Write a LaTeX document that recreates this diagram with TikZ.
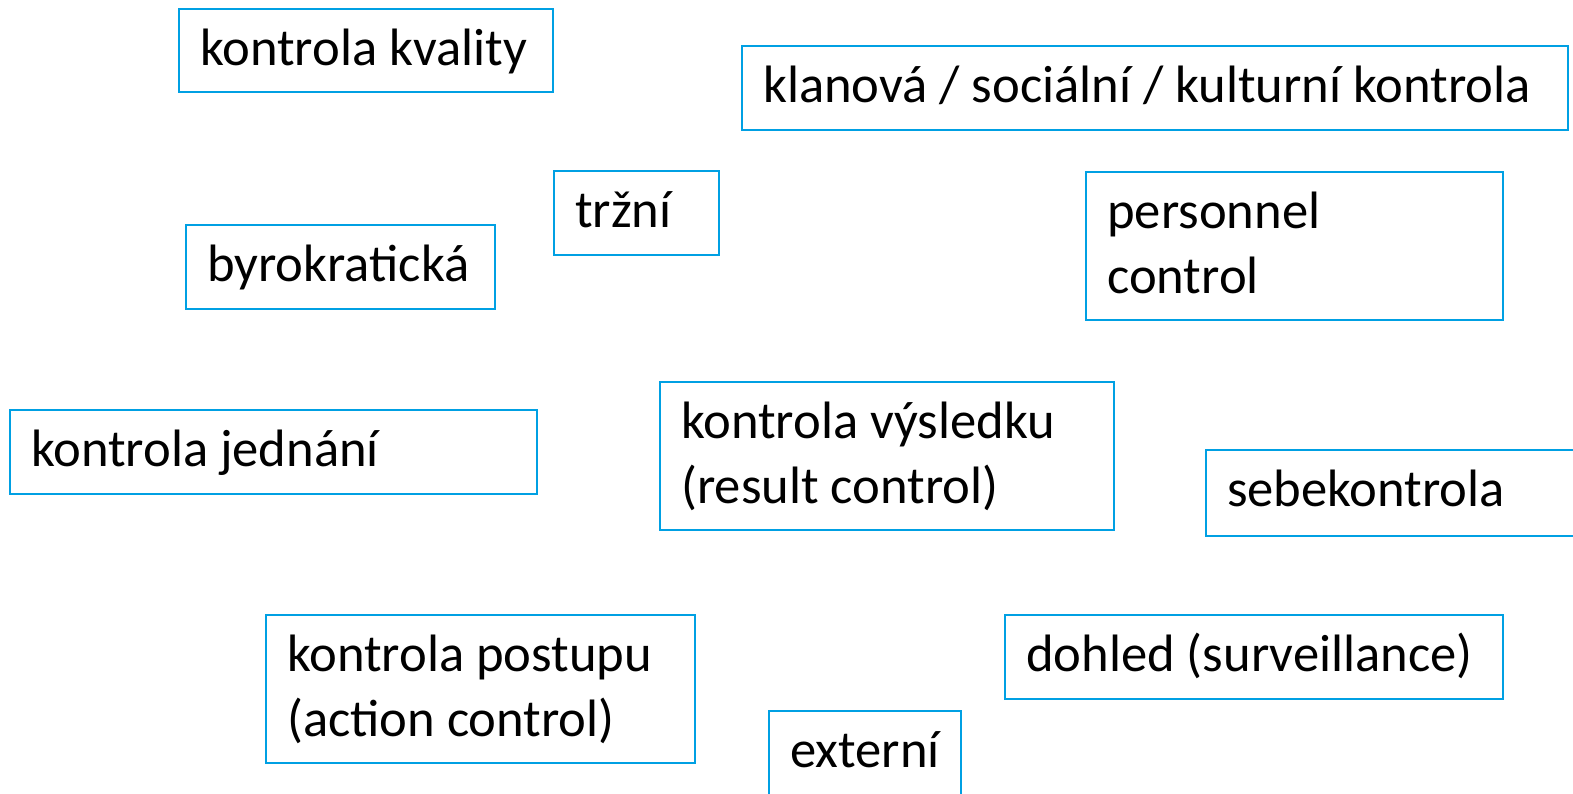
\documentclass[tikz,border=0pt]{standalone}
\usepackage{fontspec}
\setmainfont{Carlito}
\definecolor{boxblue}{RGB}{0,160,227}
\tikzset{
  box/.style={draw=boxblue, line width=2.2pt, fill=white, anchor=north west, inner sep=0pt, outer sep=0pt},
  lbl/.style={anchor=base west, inner sep=0pt, font=\fontsize{52.6pt}{63pt}\selectfont, text=black},
}
\newcommand{\mybox}[7]{%
  \node[box, minimum width=#4pt, minimum height=#5pt] (#1) at (#2pt,-#3pt) {};
  \node[lbl] (#1t) at ([xshift=21pt,yshift=-56pt]#1.north west) {#6};
  \ifx&#7&\else
  \node[lbl] (#1u) at ([xshift=21pt,yshift=-121pt]#1.north west) {#7};
  \fi
}
\begin{document}
\begin{tikzpicture}
\useasboundingbox (0pt,0pt) rectangle (1573pt,-793pt);
\clip (0pt,0pt) rectangle (1573pt,-793pt);
\fill[white] (0pt,0pt) rectangle (1573pt,-793pt);
\mybox{kval}{179}{9}{374}{83}{kontrola kvality}{}
\mybox{klan}{742}{46}{826}{84}{klanová / sociální / kulturní kontrola}{}
\mybox{trz}{554}{171}{165}{84}{tržní}{}
\mybox{byro}{186}{225}{309}{84}{byrokratická}{}
\mybox{pers}{1086}{172}{417}{148}{personnel}{control}
\mybox{jedn}{10}{410}{527}{84}{kontrola jednání}{}
\mybox{vysl}{660}{382}{454}{148}{kontrola výsledku}{(result control)}
\mybox{sebe}{1206}{450}{420}{86}{sebekontrola}{}
\mybox{post}{266}{615}{429}{148}{kontrola postupu}{(action control)}
\mybox{dohl}{1005}{615}{498}{84}{dohled (surveillance)}{}
\mybox{ext}{769}{711}{192}{120}{externí}{}
\end{tikzpicture}
\end{document}
